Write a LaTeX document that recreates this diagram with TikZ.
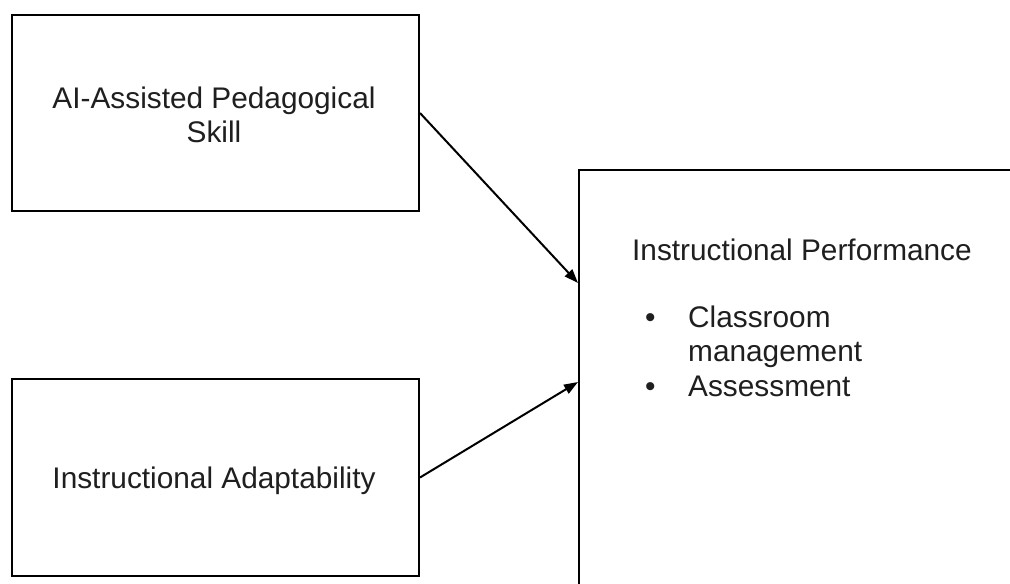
\documentclass[tikz,border=0pt]{standalone}
\usepackage{fontspec}
\setmainfont{Liberation Sans}
\usetikzlibrary{arrows.meta}
\begin{document}
\begin{tikzpicture}[x=1pt,y=-1pt,
  boxstyle/.style={draw=black,line width=2pt,inner sep=0pt,fill=none},
  txt/.style={font=\fontsize{29.8}{34}\selectfont,text=black!88,inner sep=0pt},
  arr/.style={line width=2pt,-{Triangle[length=14pt,width=10pt]}}]
\useasboundingbox (0,0) rectangle (1010,584);
\clip (0,0) rectangle (1010,584);
\fill[white] (0,0) rectangle (1010,584);
\node[boxstyle,minimum width=407pt,minimum height=196pt] (b1) at (215.5,113) {};
\node[boxstyle,minimum width=407pt,minimum height=197pt] (b2) at (215.5,477.5) {};
\node[boxstyle,minimum width=450pt,minimum height=440pt] (b3) at (804,390) {};
\node[txt,anchor=base] (t1a) at (214,108) {AI-Assisted Pedagogical};
\node[txt,anchor=base] (t1b) at (214,142) {Skill};
\node[txt,anchor=base] (t2) at (214,488) {Instructional Adaptability};
\node[txt,anchor=base west] (t3) at (632,260) {Instructional Performance};
\node[txt,anchor=base west] (bu1) at (645,327) {•};
\node[txt,anchor=base west] (i1) at (688,327) {Classroom};
\node[txt,anchor=base west] (i1b) at (688,361) {management};
\node[txt,anchor=base west] (bu2) at (645,396) {•};
\node[txt,anchor=base west] (i2) at (688,396) {Assessment};
\coordinate (e1) at (b3.west |- 0,283);
\coordinate (e2) at (b3.west |- 0,382);
\draw[arr] (b1.east) -- (e1);
\draw[arr] (b2.east) -- (e2);
\end{tikzpicture}
\end{document}
